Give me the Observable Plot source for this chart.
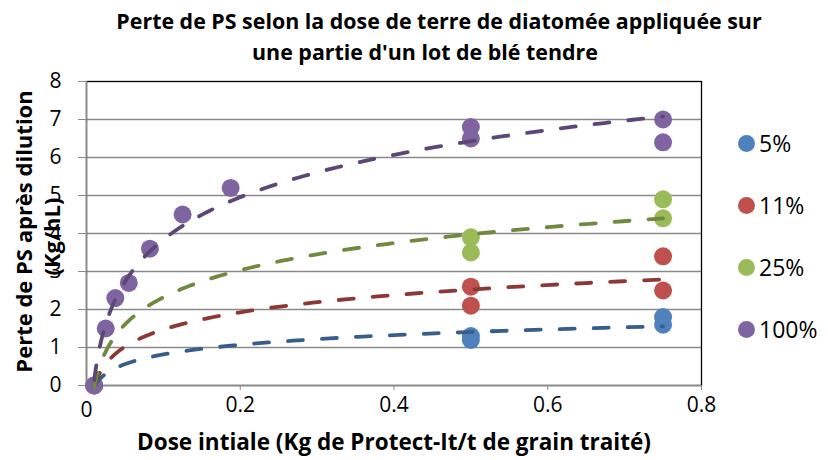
<!DOCTYPE html>
<html>
<head>
<meta charset="utf-8">
<script src="https://cdn.jsdelivr.net/npm/d3@7"></script>
<script src="https://cdn.jsdelivr.net/npm/@observablehq/plot@0.6"></script>
<style>
  html, body { margin: 0; padding: 0; background: #fff; }
  #wrap { position: relative; width: 828px; height: 460px; font-family: "Open Sans", Lato, sans-serif; }
  #legend { position: absolute; left: 738px; top: 128px; }
  .li { position: absolute; left: 0; height: 30px; display: flex; align-items: center; font-size: 23px; color: #000; white-space: nowrap; }
  .sw { width: 17px; height: 17px; border-radius: 50%; margin-right: 4px; }
</style>
</head>
<body>
<div id="wrap"></div>
<script>
// ---- data ----
const titleLines = ["Perte de PS selon la dose de terre de diatomée appliquée sur", "une partie d'un lot de blé tendre"];
const yTitleLines = ["Perte de PS après dilution", "(Kg/hL)"];
const xTitle = "Dose intiale (Kg de Protect-It/t de grain traité)";
const seriesNames = ["5%", "11%", "25%", "100%"];
const dotColors = ["#4F81BD", "#C0504D", "#9BBB59", "#8064A2"];
const lineColors = ["#385D8A", "#8C3836", "#71893F", "#5C4776"];
const xTicks = [0, 0.2, 0.4, 0.6, 0.8];
const yTicks = [0, 1, 2, 3, 4, 5, 6, 7, 8];

const doseDiluted = [0.01, 0.5, 0.5, 0.75, 0.75];
const loss5 = [0, 1.3, 1.2, 1.8, 1.6];
const loss11 = [0, 2.6, 2.1, 3.4, 2.5];
const loss25 = [0, 3.9, 3.5, 4.9, 4.4];
const dose100 = [0.01, 0.025, 0.0375, 0.055, 0.0825, 0.125, 0.1875, 0.5, 0.5, 0.75, 0.75];
const loss100 = [0, 1.5, 2.3, 2.7, 3.6, 4.5, 5.2, 6.8, 6.5, 7.0, 6.4];

const seriesX = [doseDiluted, doseDiluted, doseDiluted, dose100];
const seriesY = [loss5, loss11, loss25, loss100];

// ---- build tables ----
const points = [];
seriesNames.forEach((s, i) => seriesX[i].forEach((x, j) => points.push({s, x, y: seriesY[i][j]})));

// logarithmic least-squares trendline per series (as in the spreadsheet)
const trend = [];
seriesNames.forEach((s, i) => {
  const xs = seriesX[i], ys = seriesY[i];
  const lx = xs.map(Math.log);
  const mx = d3.mean(lx), my = d3.mean(ys);
  const sxx = d3.sum(lx, v => (v - mx) ** 2);
  const sxy = d3.sum(lx, (v, k) => (v - mx) * (ys[k] - my));
  const a = sxy / sxx, b = my - a * mx;
  const x0 = d3.min(xs), x1 = d3.max(xs);
  const n = 120;
  for (let k = 0; k <= n; k++) {
    const x = Math.exp(Math.log(x0) + (Math.log(x1) - Math.log(x0)) * k / n);
    trend.push({s, x, y: a * Math.log(x) + b});
  }
});

const colorScale = {domain: seriesNames, range: dotColors};
const font = "'Open Sans', Lato, sans-serif";

const chart = Plot.plot({
  width: 828,
  height: 460,
  marginLeft: 86,
  marginRight: 127,
  marginTop: 81,
  marginBottom: 75,
  style: {fontFamily: font, background: "#fff", overflow: "visible"},
  x: {domain: [0, 0.8]},
  y: {domain: [0, 8]},
  marks: [
    Plot.gridY(yTicks.slice(1, -1), {stroke: "#8a8a8a", strokeOpacity: 1, strokeWidth: 1.3}),
    Plot.frame({stroke: "#000", strokeWidth: 1.3}),
    Plot.ruleX([0], {stroke: "#8a8a8a", strokeWidth: 1.5}),
    Plot.ruleY([0], {stroke: "#8a8a8a", strokeWidth: 1.5}),
    Plot.axisY(yTicks, {tickSize: 8, tickPadding: 17, fontSize: 21, stroke: "#8a8a8a", fill: "#000", label: null, tickFormat: d => String(d)}),
    Plot.axisX(xTicks.slice(1), {tickSize: 5, tickPadding: 7, fontSize: 21, stroke: "#8a8a8a", fill: "#000", label: null, tickFormat: d => String(d)}),
    Plot.text([xTicks[0]], {x: d => d, frameAnchor: "bottom", dy: 25, fontSize: 21, text: d => String(d), lineAnchor: "middle"}),
    Plot.dot(points, {x: "x", y: "y", r: 9, fill: d => d.s, stroke: "none"}),
    Plot.line(trend, {x: "x", y: "y", z: "s", stroke: d => lineColors[seriesNames.indexOf(d.s)], strokeWidth: 3.8, strokeDasharray: "15,19", strokeLinecap: "round"}),
    Plot.text([titleLines[0]], {frameAnchor: "top", dx: 45, dy: -59, fontSize: 21.4, fontWeight: "bold", lineAnchor: "middle", text: d => d}),
    Plot.text([titleLines[1]], {frameAnchor: "top", dx: 31, dy: -28, fontSize: 21.4, fontWeight: "bold", lineAnchor: "middle", text: d => d}),
    Plot.text([yTitleLines[0]], {frameAnchor: "left", dx: -62, dy: -2, rotate: -90, fontSize: 22, fontWeight: "bold", textAnchor: "middle", lineAnchor: "middle", text: d => d}),
    Plot.text([yTitleLines[1]], {frameAnchor: "left", dx: -34, dy: 3, rotate: -90, fontSize: 22, fontWeight: "bold", textAnchor: "middle", lineAnchor: "middle", text: d => d}),
    Plot.text([xTitle], {frameAnchor: "bottom", dy: 57, fontSize: 22.5, fontWeight: "bold", lineAnchor: "middle", text: d => d})
  ],
  color: colorScale
});

const wrap = document.getElementById("wrap");
wrap.appendChild(chart);

const legend = document.createElement("div");
legend.id = "legend";
seriesNames.forEach((s, i) => {
  const item = document.createElement("div");
  item.className = "li";
  item.style.top = (i * 62) + "px";
  const sw = document.createElement("span");
  sw.className = "sw";
  sw.style.background = dotColors[i];
  const lab = document.createElement("span");
  lab.textContent = s;
  item.appendChild(sw);
  item.appendChild(lab);
  legend.appendChild(item);
});
wrap.appendChild(legend);
</script>
</body>
</html>
